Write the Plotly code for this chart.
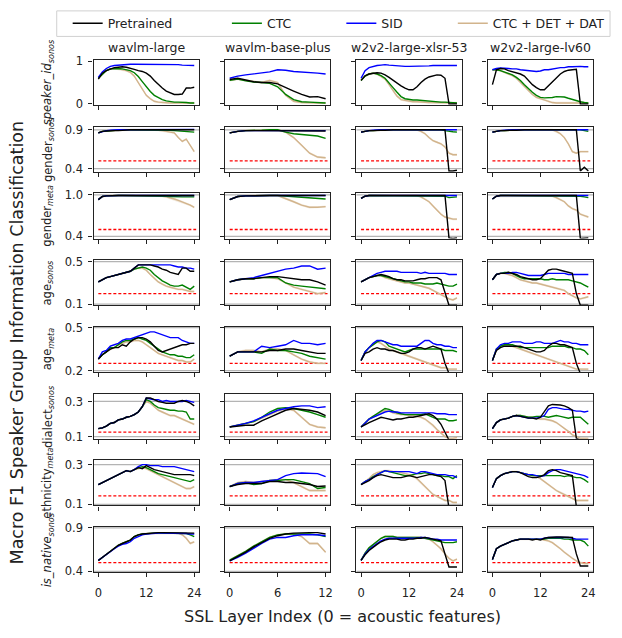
import plotly.graph_objects as go

W, H = 622, 638

MODELS = ["wavlm-large", "wavlm-base-plus", "w2v2-large-xlsr-53", "w2v2-large-lv60"]
N_LAYERS = [24, 12, 24, 24]
X_TICKS = [[0, 12, 24], [0, 6, 12], [0, 12, 24], [0, 12, 24]]

ROW_LABELS = [
    "<i>speaker_id</i><sub><i>sonos</i></sub>",
    "gender<sub><i>sonos</i></sub>",
    "gender<sub><i>meta</i></sub>",
    "age<sub><i>sonos</i></sub>",
    "age<sub><i>meta</i></sub>",
    "dialect<sub><i>sonos</i></sub>",
    "ethnicity<sub><i>meta</i></sub>",
    "<i>is_native</i><sub><i>sonos</i></sub>",
]
Y_RANGES = [[-0.03, 1.03], [0.36, 0.94], [0.37, 1.02], [0.09, 0.515],
            [0.19, 0.505], [0.088, 0.345], [0.095, 0.322], [0.39, 0.91]]
Y_TICKS = [[0, 1], [0.4, 0.9], [0.4, 1.0], [0.1, 0.5], [0.2, 0.5], [0.1, 0.3], [0.1, 0.3], [0.4, 0.9]]
Y_TICKTEXT = [["0", "1"], ["0.4", "0.9"], ["0.4", "1.0"], ["0.1", "0.5"], ["0.2", "0.5"],
              ["0.1", "0.3"], ["0.1", "0.3"], ["0.4", "0.9"]]
CHANCE = [None, 0.5, 0.5, 0.2, 0.25, 0.125, 0.143, 0.5]

SERIES_NAMES = ["Pretrained", "CTC", "SID", "CTC + DET + DAT"]

# ---------------- speaker_id (sonos) ----------------
SPK_PRE = [
    [0.58,0.72,0.78,0.82,0.85,0.86,0.87,0.86,0.84,0.81,0.78,0.76,0.72,0.65,0.55,0.45,0.37,0.30,0.25,0.22,0.22,0.23,0.37,0.37,0.39],
    [0.57,0.60,0.56,0.52,0.50,0.50,0.47,0.38,0.30,0.22,0.16,0.17,0.12],
    [0.55,0.66,0.70,0.72,0.73,0.72,0.68,0.62,0.55,0.48,0.42,0.37,0.33,0.33,0.40,0.50,0.58,0.63,0.66,0.68,0.67,0.60,0.0,0.0,0.0],
    [0.45,0.80,0.83,0.82,0.78,0.75,0.72,0.70,0.65,0.55,0.45,0.38,0.33,0.33,0.42,0.52,0.62,0.70,0.76,0.79,0.80,0.81,0.0,0.0,0.0],
]
SPK_CTC = [
    [0.60,0.70,0.78,0.82,0.83,0.83,0.82,0.80,0.78,0.73,0.64,0.52,0.40,0.29,0.20,0.14,0.10,0.07,0.05,0.04,0.04,0.04,0.03,0.02,0.02],
    [0.55,0.58,0.54,0.51,0.50,0.48,0.40,0.22,0.10,0.05,0.04,0.03,0.02],
    [0.55,0.65,0.70,0.72,0.70,0.66,0.60,0.50,0.38,0.27,0.17,0.12,0.10,0.09,0.09,0.08,0.07,0.06,0.05,0.05,0.04,0.04,0.03,0.02,0.02],
    [0.80,0.80,0.78,0.75,0.72,0.68,0.62,0.55,0.45,0.35,0.27,0.20,0.15,0.14,0.14,0.15,0.17,0.17,0.16,0.13,0.10,0.07,0.05,0.03,0.02],
]
SPK_SID = [
    [0.62,0.75,0.83,0.88,0.90,0.91,0.92,0.92,0.93,0.93,0.93,0.93,0.93,0.93,0.93,0.92,0.92,0.92,0.92,0.92,0.92,0.91,0.91,0.91,0.90],
    [0.60,0.65,0.68,0.70,0.72,0.75,0.80,0.79,0.76,0.75,0.74,0.72,0.70],
    [0.60,0.78,0.85,0.88,0.90,0.91,0.92,0.91,0.90,0.89,0.89,0.88,0.88,0.88,0.88,0.88,0.89,0.89,0.90,0.90,0.91,0.91,0.91,0.90,0.90],
    [0.80,0.83,0.84,0.84,0.83,0.82,0.82,0.80,0.79,0.78,0.78,0.76,0.77,0.80,0.80,0.82,0.84,0.85,0.85,0.87,0.87,0.88,0.88,0.87,0.87],
]
SPK_DAT = [
    [0.60,0.70,0.78,0.82,0.83,0.82,0.80,0.78,0.74,0.65,0.50,0.35,0.20,0.12,0.06,0.04,0.03,0.02,0.02,0.02,0.02,0.02,0.02,0.02,0.02],
    [0.55,0.58,0.55,0.52,0.50,0.55,0.50,0.20,0.06,0.03,0.02,0.02,0.02],
    [0.55,0.65,0.70,0.72,0.70,0.65,0.58,0.45,0.30,0.18,0.10,0.08,0.06,0.05,0.05,0.04,0.04,0.03,0.03,0.03,0.03,0.03,0.03,0.02,0.02],
    [0.80,0.80,0.78,0.74,0.70,0.66,0.60,0.50,0.40,0.30,0.22,0.15,0.12,0.10,0.06,0.03,0.02,0.02,0.02,0.02,0.02,0.02,0.02,0.02,0.02],
]

# ---------------- gender (sonos) ----------------
GS_PRE = [
    [0.86,0.88,0.885,0.89,0.89,0.89,0.895,0.895,0.90,0.90,0.90,0.90,0.90,0.90,0.90,0.90,0.90,0.90,0.90,0.90,0.90,0.90,0.90,0.90,0.90],
    [0.86,0.88,0.89,0.89,0.89,0.89,0.89,0.89,0.89,0.885,0.885,0.885,0.885],
    [0.87,0.885,0.89,0.89,0.895,0.895,0.895,0.90,0.90,0.90,0.90,0.90,0.90,0.90,0.90,0.90,0.90,0.90,0.90,0.90,0.90,0.90,0.37,0.37,0.38],
    [0.87,0.885,0.89,0.89,0.895,0.895,0.895,0.90,0.90,0.90,0.90,0.90,0.90,0.90,0.90,0.90,0.90,0.90,0.90,0.90,0.90,0.90,0.37,0.42,0.37],
]
GS_CTC = [
    [0.86,0.88,0.885,0.89,0.89,0.895,0.90,0.90,0.90,0.90,0.90,0.90,0.90,0.90,0.90,0.90,0.90,0.90,0.895,0.89,0.885,0.88,0.88,0.875,0.87],
    [0.86,0.88,0.89,0.89,0.895,0.90,0.90,0.87,0.85,0.84,0.83,0.82,0.79],
    [0.87,0.885,0.89,0.89,0.895,0.895,0.90,0.90,0.90,0.90,0.90,0.90,0.90,0.90,0.90,0.90,0.90,0.90,0.90,0.90,0.90,0.89,0.88,0.875,0.87],
    [0.87,0.885,0.89,0.89,0.895,0.895,0.90,0.90,0.90,0.90,0.90,0.90,0.90,0.90,0.90,0.90,0.90,0.90,0.90,0.90,0.90,0.90,0.90,0.89,0.88],
]
GS_SID = [
    [0.86,0.88,0.89,0.895,0.90,0.90,0.90,0.90,0.90,0.90,0.90,0.90,0.90,0.905,0.905,0.905,0.905,0.905,0.905,0.905,0.905,0.905,0.905,0.905,0.905],
    [0.86,0.88,0.89,0.89,0.89,0.89,0.89,0.89,0.89,0.89,0.89,0.89,0.89],
    [0.87,0.885,0.89,0.895,0.90,0.90,0.90,0.90,0.90,0.90,0.90,0.90,0.90,0.90,0.90,0.90,0.90,0.90,0.90,0.90,0.90,0.90,0.90,0.90,0.90],
    [0.87,0.885,0.89,0.895,0.90,0.90,0.90,0.90,0.90,0.90,0.90,0.90,0.90,0.90,0.90,0.90,0.90,0.90,0.90,0.90,0.90,0.90,0.90,0.90,0.90],
]
GS_DAT = [
    [0.86,0.88,0.885,0.89,0.89,0.895,0.90,0.90,0.90,0.90,0.90,0.90,0.90,0.90,0.90,0.895,0.89,0.88,0.87,0.86,0.80,0.75,0.78,0.70,0.62],
    [0.86,0.88,0.89,0.89,0.895,0.90,0.90,0.87,0.80,0.70,0.60,0.55,0.54],
    [0.87,0.885,0.89,0.89,0.895,0.895,0.90,0.90,0.90,0.90,0.90,0.90,0.90,0.90,0.90,0.88,0.85,0.80,0.76,0.74,0.72,0.68,0.60,0.58,0.58],
    [0.87,0.885,0.89,0.89,0.895,0.895,0.90,0.90,0.90,0.90,0.90,0.90,0.90,0.90,0.90,0.90,0.88,0.85,0.80,0.72,0.62,0.60,0.62,0.62,0.62],
]

# ---------------- gender (meta) ----------------
GM_PRE = [
    [0.93,0.975,0.985,0.99,0.99,0.99,0.99,0.99,0.99,0.99,0.99,0.99,0.99,0.99,0.99,0.99,0.99,0.99,0.99,0.99,0.99,0.99,0.99,0.99,0.99],
    [0.93,0.975,0.985,0.99,0.99,0.99,0.99,0.99,0.99,0.99,0.99,0.99,0.99],
    [0.95,0.98,0.99,0.99,0.99,0.99,0.99,0.99,0.99,0.99,0.99,0.99,0.99,0.99,0.99,0.99,0.99,0.99,0.99,0.99,0.99,0.99,0.38,0.37,0.38],
    [0.94,0.98,0.99,0.99,0.99,0.99,0.99,0.99,0.99,0.99,0.99,0.99,0.99,0.99,0.99,0.99,0.99,0.99,0.99,0.99,0.99,0.99,0.37,0.37,0.38],
]
GM_CTC = [
    [0.93,0.975,0.985,0.99,0.99,0.99,0.99,0.99,0.99,0.99,0.99,0.99,0.99,0.99,0.99,0.99,0.99,0.98,0.975,0.97,0.97,0.97,0.97,0.97,0.97],
    [0.93,0.975,0.985,0.99,0.99,0.99,0.99,0.98,0.97,0.965,0.96,0.95,0.94],
    [0.95,0.98,0.99,0.99,0.99,0.99,0.99,0.99,0.99,0.99,0.99,0.99,0.99,0.99,0.99,0.99,0.99,0.99,0.99,0.99,0.99,0.98,0.96,0.96,0.97],
    [0.94,0.98,0.99,0.99,0.99,0.99,0.99,0.99,0.99,0.99,0.99,0.99,0.99,0.99,0.99,0.99,0.99,0.99,0.99,0.99,0.99,0.99,0.98,0.97,0.96],
]
GM_SID = [
    [0.93,0.975,0.985,0.99,0.99,0.99,0.99,0.99,0.99,0.99,0.99,0.99,0.99,0.99,0.99,0.99,0.99,0.99,0.99,0.99,0.99,0.99,0.99,0.99,0.99],
    [0.93,0.975,0.985,0.99,0.99,0.99,0.99,0.99,0.99,0.99,0.99,0.99,0.99],
    [0.95,0.98,0.99,0.99,0.99,0.99,0.99,0.99,0.99,0.99,0.99,0.99,0.99,0.99,0.99,0.99,0.99,0.99,0.99,0.99,0.99,0.99,0.99,0.99,0.99],
    [0.94,0.98,0.99,0.99,0.99,0.99,0.99,0.99,0.99,0.99,0.99,0.99,0.99,0.99,0.99,0.99,0.99,0.99,0.99,0.99,0.99,0.99,0.99,0.99,0.99],
]
GM_DAT = [
    [0.93,0.975,0.985,0.99,0.99,0.99,0.99,0.99,0.99,0.99,0.99,0.99,0.99,0.99,0.99,0.985,0.98,0.97,0.96,0.94,0.92,0.90,0.87,0.85,0.82],
    [0.93,0.975,0.985,0.99,0.99,0.99,0.99,0.95,0.90,0.85,0.82,0.82,0.83],
    [0.95,0.98,0.99,0.99,0.99,0.99,0.99,0.99,0.99,0.99,0.99,0.99,0.99,0.99,0.99,0.97,0.94,0.90,0.84,0.78,0.72,0.68,0.66,0.65,0.65],
    [0.94,0.98,0.99,0.99,0.99,0.99,0.99,0.99,0.99,0.99,0.99,0.99,0.99,0.99,0.99,0.98,0.96,0.93,0.90,0.84,0.80,0.78,0.72,0.70,0.68],
]

# ---------------- age (sonos) ----------------
AS_PRE = [
    [0.31,0.33,0.35,0.36,0.37,0.38,0.39,0.40,0.41,0.44,0.47,0.47,0.47,0.47,0.46,0.45,0.43,0.42,0.40,0.39,0.38,0.44,0.44,0.41,0.41],
    [0.31,0.33,0.34,0.34,0.35,0.36,0.36,0.35,0.34,0.33,0.33,0.31,0.28],
    [0.31,0.33,0.35,0.36,0.37,0.38,0.37,0.36,0.34,0.33,0.33,0.32,0.32,0.32,0.33,0.34,0.34,0.35,0.35,0.35,0.33,0.22,0.09,0.09,0.09],
    [0.33,0.38,0.39,0.39,0.40,0.39,0.38,0.36,0.35,0.34,0.33,0.33,0.34,0.38,0.42,0.43,0.43,0.42,0.41,0.40,0.39,0.20,0.09,0.09,0.09],
]
AS_CTC = [
    [0.31,0.33,0.35,0.36,0.37,0.38,0.39,0.40,0.41,0.43,0.44,0.45,0.44,0.42,0.38,0.35,0.32,0.30,0.28,0.27,0.27,0.28,0.26,0.24,0.27],
    [0.31,0.33,0.34,0.34,0.35,0.35,0.35,0.30,0.28,0.27,0.26,0.255,0.245],
    [0.31,0.33,0.35,0.36,0.37,0.37,0.36,0.35,0.34,0.33,0.32,0.31,0.31,0.30,0.30,0.30,0.29,0.29,0.29,0.30,0.29,0.28,0.27,0.27,0.29],
    [0.33,0.38,0.39,0.40,0.40,0.39,0.37,0.35,0.34,0.34,0.34,0.34,0.34,0.33,0.33,0.34,0.33,0.33,0.33,0.33,0.32,0.31,0.30,0.28,0.26],
]
AS_SID = [
    [0.31,0.33,0.35,0.36,0.37,0.38,0.39,0.40,0.41,0.44,0.47,0.47,0.47,0.47,0.47,0.47,0.47,0.47,0.47,0.46,0.45,0.45,0.44,0.44,0.43],
    [0.31,0.33,0.34,0.35,0.37,0.39,0.41,0.43,0.44,0.46,0.46,0.43,0.44],
    [0.31,0.33,0.35,0.37,0.39,0.40,0.41,0.41,0.41,0.41,0.40,0.40,0.40,0.40,0.40,0.39,0.40,0.39,0.39,0.39,0.39,0.39,0.38,0.38,0.38],
    [0.33,0.38,0.39,0.39,0.39,0.40,0.40,0.39,0.38,0.37,0.37,0.37,0.37,0.38,0.39,0.39,0.39,0.39,0.39,0.38,0.38,0.38,0.38,0.38,0.38],
]
AS_DAT = [
    [0.31,0.33,0.35,0.36,0.37,0.38,0.39,0.40,0.41,0.43,0.44,0.44,0.42,0.38,0.34,0.31,0.29,0.27,0.26,0.25,0.24,0.24,0.23,0.22,0.22],
    [0.31,0.33,0.34,0.34,0.35,0.35,0.34,0.30,0.26,0.24,0.22,0.20,0.21],
    [0.31,0.33,0.35,0.36,0.37,0.37,0.35,0.34,0.33,0.32,0.31,0.30,0.30,0.29,0.28,0.27,0.26,0.25,0.23,0.21,0.19,0.17,0.15,0.14,0.16],
    [0.33,0.38,0.39,0.39,0.38,0.37,0.35,0.33,0.32,0.31,0.30,0.30,0.29,0.28,0.27,0.26,0.25,0.24,0.23,0.20,0.18,0.16,0.15,0.16,0.17],
]

# ---------------- age (meta) ----------------
AM_PRE = [
    [0.28,0.31,0.33,0.35,0.36,0.36,0.38,0.37,0.40,0.42,0.43,0.43,0.42,0.40,0.37,0.34,0.33,0.34,0.35,0.36,0.37,0.38,0.38,0.39,0.39],
    [0.30,0.33,0.33,0.33,0.33,0.34,0.34,0.35,0.35,0.34,0.33,0.32,0.32],
    [0.27,0.32,0.33,0.35,0.36,0.35,0.35,0.34,0.34,0.33,0.32,0.32,0.33,0.35,0.36,0.36,0.35,0.36,0.37,0.36,0.35,0.25,0.18,0.18,0.18],
    [0.27,0.34,0.36,0.37,0.37,0.37,0.37,0.37,0.36,0.35,0.34,0.33,0.33,0.34,0.37,0.39,0.39,0.38,0.38,0.37,0.36,0.25,0.18,0.18,0.18],
]
AM_CTC = [
    [0.28,0.31,0.33,0.36,0.36,0.38,0.40,0.41,0.41,0.42,0.43,0.42,0.41,0.39,0.37,0.35,0.33,0.32,0.31,0.31,0.30,0.30,0.29,0.29,0.31],
    [0.30,0.33,0.33,0.33,0.32,0.35,0.34,0.34,0.33,0.32,0.30,0.29,0.28],
    [0.27,0.33,0.36,0.38,0.40,0.41,0.40,0.37,0.36,0.35,0.34,0.33,0.34,0.35,0.35,0.35,0.35,0.35,0.35,0.35,0.35,0.34,0.34,0.34,0.33],
    [0.27,0.35,0.37,0.38,0.38,0.38,0.37,0.36,0.36,0.36,0.36,0.36,0.36,0.36,0.36,0.37,0.37,0.37,0.37,0.36,0.36,0.35,0.35,0.34,0.31],
]
AM_SID = [
    [0.28,0.33,0.34,0.37,0.38,0.39,0.41,0.42,0.42,0.43,0.44,0.45,0.46,0.47,0.47,0.46,0.45,0.44,0.43,0.43,0.43,0.41,0.40,0.39,0.39],
    [0.30,0.33,0.33,0.33,0.37,0.36,0.37,0.38,0.41,0.39,0.39,0.38,0.39],
    [0.27,0.33,0.36,0.39,0.41,0.41,0.40,0.39,0.38,0.38,0.37,0.37,0.37,0.37,0.37,0.39,0.41,0.41,0.39,0.38,0.38,0.37,0.37,0.36,0.36],
    [0.27,0.35,0.38,0.39,0.39,0.40,0.40,0.40,0.39,0.39,0.39,0.40,0.40,0.39,0.39,0.39,0.40,0.41,0.40,0.40,0.39,0.39,0.38,0.38,0.38],
]
AM_DAT = [
    [0.28,0.31,0.33,0.35,0.36,0.38,0.39,0.40,0.40,0.41,0.41,0.40,0.38,0.36,0.34,0.32,0.31,0.30,0.29,0.28,0.27,0.27,0.26,0.26,0.28],
    [0.30,0.33,0.34,0.34,0.33,0.35,0.35,0.34,0.31,0.28,0.26,0.25,0.25],
    [0.27,0.33,0.36,0.38,0.40,0.39,0.37,0.35,0.34,0.33,0.32,0.31,0.30,0.29,0.28,0.27,0.26,0.25,0.24,0.23,0.22,0.22,0.21,0.21,0.21],
    [0.27,0.35,0.37,0.38,0.38,0.37,0.36,0.35,0.34,0.33,0.32,0.31,0.30,0.29,0.28,0.27,0.26,0.25,0.24,0.23,0.22,0.21,0.21,0.21,0.21],
]

# ---------------- dialect (sonos) ----------------
DI_PRE = [
    [0.145,0.15,0.16,0.175,0.18,0.195,0.20,0.21,0.215,0.225,0.24,0.27,0.32,0.32,0.31,0.30,0.295,0.29,0.29,0.29,0.30,0.305,0.30,0.29,0.275],
    [0.155,0.16,0.165,0.165,0.19,0.21,0.23,0.25,0.26,0.255,0.25,0.24,0.22],
    [0.155,0.17,0.18,0.19,0.20,0.21,0.205,0.20,0.195,0.20,0.20,0.205,0.21,0.21,0.215,0.22,0.225,0.23,0.22,0.20,0.17,0.12,0.08,0.08,0.08],
    [0.145,0.18,0.195,0.20,0.205,0.215,0.22,0.215,0.21,0.205,0.205,0.20,0.21,0.24,0.275,0.283,0.283,0.28,0.275,0.265,0.25,0.09,0.08,0.08,0.08],
]
DI_CTC = [
    [0.145,0.15,0.16,0.175,0.18,0.195,0.20,0.21,0.215,0.225,0.24,0.27,0.31,0.30,0.28,0.265,0.26,0.255,0.25,0.25,0.245,0.245,0.24,0.20,0.20],
    [0.155,0.165,0.175,0.185,0.21,0.24,0.26,0.265,0.26,0.25,0.24,0.225,0.21],
    [0.155,0.18,0.20,0.215,0.23,0.25,0.26,0.255,0.245,0.235,0.23,0.225,0.225,0.225,0.225,0.225,0.23,0.22,0.21,0.20,0.20,0.20,0.19,0.19,0.195],
    [0.145,0.18,0.195,0.20,0.205,0.215,0.22,0.22,0.215,0.21,0.21,0.215,0.215,0.215,0.21,0.215,0.22,0.215,0.21,0.205,0.21,0.21,0.21,0.19,0.17],
]
DI_SID = [
    [0.145,0.15,0.16,0.175,0.18,0.195,0.20,0.21,0.215,0.225,0.24,0.27,0.32,0.315,0.31,0.31,0.30,0.305,0.30,0.30,0.30,0.30,0.305,0.30,0.295],
    [0.155,0.165,0.175,0.19,0.21,0.23,0.25,0.26,0.27,0.275,0.275,0.265,0.27],
    [0.155,0.18,0.20,0.21,0.22,0.23,0.24,0.245,0.24,0.24,0.235,0.235,0.235,0.235,0.235,0.235,0.235,0.235,0.235,0.23,0.23,0.23,0.225,0.225,0.225],
    [0.145,0.18,0.195,0.20,0.205,0.215,0.22,0.215,0.21,0.205,0.205,0.205,0.21,0.22,0.255,0.265,0.265,0.26,0.255,0.255,0.25,0.245,0.245,0.24,0.245],
]
DI_DAT = [
    [0.145,0.15,0.16,0.175,0.18,0.195,0.20,0.21,0.215,0.225,0.24,0.27,0.30,0.29,0.27,0.25,0.24,0.23,0.22,0.22,0.21,0.20,0.19,0.18,0.17],
    [0.155,0.165,0.175,0.185,0.205,0.225,0.245,0.26,0.25,0.21,0.17,0.155,0.15],
    [0.155,0.18,0.20,0.215,0.225,0.24,0.25,0.245,0.235,0.23,0.225,0.225,0.22,0.22,0.215,0.21,0.20,0.185,0.165,0.14,0.12,0.10,0.09,0.09,0.095],
    [0.145,0.18,0.195,0.20,0.205,0.215,0.22,0.22,0.215,0.21,0.21,0.205,0.20,0.20,0.195,0.19,0.18,0.165,0.15,0.13,0.11,0.10,0.09,0.09,0.09],
]

# ---------------- ethnicity (meta) ----------------
ET_PRE = [
    [0.20,0.21,0.22,0.23,0.24,0.25,0.26,0.27,0.265,0.275,0.285,0.28,0.295,0.285,0.275,0.27,0.265,0.26,0.255,0.25,0.25,0.25,0.25,0.25,0.245],
    [0.19,0.20,0.205,0.205,0.205,0.215,0.215,0.21,0.21,0.205,0.20,0.19,0.193],
    [0.20,0.21,0.22,0.235,0.245,0.25,0.245,0.24,0.235,0.235,0.235,0.24,0.245,0.24,0.235,0.24,0.245,0.25,0.25,0.245,0.24,0.22,0.08,0.08,0.08],
    [0.185,0.23,0.245,0.255,0.26,0.265,0.265,0.26,0.25,0.24,0.235,0.235,0.24,0.25,0.27,0.275,0.27,0.26,0.255,0.25,0.245,0.09,0.08,0.08,0.08],
]
ET_CTC = [
    [0.20,0.21,0.22,0.23,0.24,0.25,0.26,0.27,0.265,0.275,0.285,0.29,0.285,0.275,0.265,0.255,0.25,0.245,0.24,0.235,0.23,0.225,0.22,0.215,0.225],
    [0.19,0.205,0.21,0.20,0.205,0.22,0.22,0.225,0.225,0.215,0.205,0.18,0.185],
    [0.20,0.215,0.225,0.24,0.25,0.26,0.27,0.265,0.26,0.255,0.25,0.245,0.245,0.25,0.255,0.255,0.26,0.255,0.25,0.245,0.245,0.24,0.24,0.23,0.245],
    [0.185,0.23,0.245,0.255,0.26,0.265,0.265,0.26,0.255,0.25,0.245,0.245,0.245,0.245,0.245,0.245,0.245,0.245,0.24,0.245,0.24,0.235,0.235,0.225,0.21],
]
ET_SID = [
    [0.20,0.21,0.22,0.23,0.24,0.25,0.26,0.27,0.265,0.275,0.29,0.30,0.30,0.295,0.295,0.295,0.29,0.29,0.29,0.29,0.285,0.28,0.275,0.27,0.265],
    [0.19,0.205,0.21,0.21,0.215,0.22,0.225,0.245,0.255,0.258,0.258,0.255,0.24],
    [0.20,0.215,0.225,0.235,0.25,0.26,0.27,0.265,0.265,0.265,0.265,0.265,0.265,0.26,0.255,0.265,0.265,0.26,0.255,0.25,0.25,0.25,0.245,0.245,0.235],
    [0.185,0.23,0.245,0.255,0.26,0.265,0.265,0.26,0.255,0.25,0.25,0.245,0.24,0.245,0.26,0.27,0.275,0.275,0.27,0.265,0.26,0.255,0.25,0.245,0.235],
]
ET_DAT = [
    [0.20,0.21,0.22,0.23,0.24,0.25,0.26,0.27,0.265,0.275,0.28,0.285,0.28,0.27,0.26,0.25,0.24,0.23,0.22,0.21,0.20,0.19,0.18,0.18,0.19],
    [0.19,0.21,0.215,0.21,0.215,0.22,0.225,0.225,0.21,0.19,0.17,0.17,0.17],
    [0.20,0.215,0.23,0.25,0.26,0.265,0.27,0.27,0.265,0.265,0.26,0.255,0.25,0.245,0.23,0.21,0.19,0.17,0.15,0.14,0.13,0.12,0.12,0.11,0.11],
    [0.185,0.23,0.245,0.255,0.26,0.265,0.265,0.26,0.255,0.25,0.245,0.24,0.23,0.215,0.20,0.185,0.17,0.16,0.15,0.14,0.13,0.12,0.12,0.12,0.12],
]

# ---------------- is_native (sonos) ----------------
NA_PRE = [
    [0.525,0.56,0.60,0.63,0.66,0.70,0.72,0.74,0.76,0.80,0.82,0.83,0.835,0.84,0.845,0.845,0.845,0.845,0.845,0.845,0.845,0.845,0.84,0.84,0.84],
    [0.52,0.57,0.62,0.68,0.73,0.78,0.81,0.83,0.84,0.845,0.845,0.845,0.83],
    [0.525,0.59,0.64,0.68,0.71,0.74,0.76,0.77,0.77,0.77,0.76,0.76,0.77,0.77,0.78,0.78,0.79,0.78,0.77,0.76,0.75,0.60,0.45,0.45,0.45],
    [0.535,0.66,0.69,0.71,0.73,0.75,0.76,0.77,0.77,0.77,0.76,0.77,0.76,0.78,0.79,0.795,0.795,0.795,0.795,0.795,0.79,0.60,0.46,0.46,0.46],
]
NA_CTC = [
    [0.525,0.56,0.60,0.63,0.66,0.70,0.72,0.74,0.76,0.80,0.82,0.83,0.835,0.84,0.84,0.84,0.84,0.84,0.84,0.84,0.84,0.84,0.835,0.82,0.80],
    [0.53,0.58,0.63,0.69,0.74,0.79,0.82,0.83,0.83,0.83,0.83,0.82,0.80],
    [0.525,0.61,0.67,0.71,0.75,0.78,0.80,0.80,0.80,0.79,0.79,0.79,0.79,0.79,0.79,0.79,0.78,0.77,0.76,0.75,0.74,0.73,0.73,0.73,0.74],
    [0.535,0.66,0.69,0.71,0.73,0.75,0.76,0.77,0.77,0.77,0.77,0.77,0.77,0.77,0.78,0.78,0.78,0.78,0.77,0.77,0.76,0.76,0.76,0.74,0.69],
]
NA_SID = [
    [0.525,0.56,0.60,0.63,0.66,0.69,0.71,0.72,0.74,0.78,0.80,0.82,0.83,0.835,0.84,0.84,0.84,0.84,0.84,0.84,0.84,0.84,0.835,0.83,0.83],
    [0.52,0.56,0.61,0.67,0.72,0.77,0.79,0.79,0.81,0.82,0.82,0.82,0.81],
    [0.525,0.60,0.65,0.69,0.72,0.75,0.77,0.78,0.78,0.78,0.78,0.78,0.78,0.78,0.78,0.79,0.79,0.78,0.77,0.77,0.76,0.76,0.76,0.76,0.76],
    [0.535,0.66,0.69,0.71,0.73,0.75,0.76,0.77,0.77,0.77,0.77,0.77,0.77,0.78,0.79,0.79,0.79,0.79,0.79,0.79,0.78,0.77,0.77,0.77,0.77],
]
NA_DAT = [
    [0.525,0.56,0.60,0.63,0.66,0.70,0.72,0.74,0.76,0.80,0.82,0.83,0.835,0.84,0.84,0.84,0.84,0.84,0.84,0.84,0.84,0.82,0.78,0.72,0.74],
    [0.53,0.58,0.63,0.69,0.74,0.79,0.82,0.83,0.83,0.80,0.72,0.72,0.62],
    [0.525,0.61,0.67,0.71,0.75,0.78,0.80,0.80,0.80,0.79,0.79,0.79,0.79,0.79,0.79,0.79,0.78,0.77,0.74,0.70,0.66,0.60,0.55,0.52,0.54],
    [0.535,0.66,0.69,0.71,0.73,0.75,0.76,0.77,0.77,0.77,0.77,0.77,0.77,0.76,0.75,0.73,0.70,0.66,0.62,0.58,0.55,0.52,0.50,0.49,0.49],
]

ROWS = [
    (SPK_PRE, SPK_CTC, SPK_SID, SPK_DAT),
    (GS_PRE, GS_CTC, GS_SID, GS_DAT),
    (GM_PRE, GM_CTC, GM_SID, GM_DAT),
    (AS_PRE, AS_CTC, AS_SID, AS_DAT),
    (AM_PRE, AM_CTC, AM_SID, AM_DAT),
    (DI_PRE, DI_CTC, DI_SID, DI_DAT),
    (ET_PRE, ET_CTC, ET_SID, ET_DAT),
    (NA_PRE, NA_CTC, NA_SID, NA_DAT),
]

# ---------------- styling / layout ----------------
COLORS = {"Pretrained": "#000000", "CTC": "#008000", "SID": "#0000ff", "CTC + DET + DAT": "#d2b48c"}
DRAW_ORDER = [3, 1, 2, 0]  # tan, green, blue, black on top
LEGEND_IDS = {"Pretrained": "legend", "CTC": "legend2", "SID": "legend3", "CTC + DET + DAT": "legend4"}
FONT = "DejaVu Sans"
TXT = "#222222"

COL_LEFT = [94, 226, 358, 490]
COL_W = 106
ROW_TOP = [55, 123, 191, 259, 327, 395, 463, 531]
ROW_H = 46

fig = go.Figure()
layout = {}
annotations = []
shapes = []

for r in range(8):
    series = ROWS[r]
    yr = Y_RANGES[r]
    span = yr[1] - yr[0]
    for c in range(4):
        k = r * 4 + c + 1
        xref = "x" if k == 1 else f"x{k}"
        yref = "y" if k == 1 else f"y{k}"
        xs = list(range(N_LAYERS[c] + 1))
        nmax = N_LAYERS[c]

        # gray reference lines at tick values
        if r > 0:
            for tv in Y_TICKS[r]:
                fig.add_trace(go.Scatter(x=[-nmax * 0.05, nmax * 1.05], y=[tv, tv], mode="lines",
                                         line=dict(color="#b4b4b4", width=1.2), xaxis=xref, yaxis=yref,
                                         showlegend=False, hoverinfo="skip"))
        # chance line
        if CHANCE[r] is not None:
            fig.add_trace(go.Scatter(x=[0, nmax * 1.02], y=[CHANCE[r], CHANCE[r]], mode="lines",
                                     line=dict(color="#ff0000", width=1.3, dash="3px,2px"),
                                     xaxis=xref, yaxis=yref, showlegend=False, hoverinfo="skip"))

        for si in DRAW_ORDER:
            name = SERIES_NAMES[si]
            ys = series[si][c]
            if si == 3:
                hw = 0.025 * span
                up = [v + hw for v in ys]
                lo = [v - hw for v in ys]
                fig.add_trace(go.Scatter(x=xs + xs[::-1], y=up + lo[::-1], mode="lines", fill="toself",
                                         fillcolor="rgba(210,180,140,0.28)", line=dict(width=0),
                                         xaxis=xref, yaxis=yref, showlegend=False, hoverinfo="skip"))
            fig.add_trace(go.Scatter(x=xs, y=ys, mode="lines", name=name,
                                     line=dict(color=COLORS[name], width=1.4),
                                     xaxis=xref, yaxis=yref,
                                     showlegend=(k == 1), legend=LEGEND_IDS[name]))

        x0 = COL_LEFT[c] / W
        x1 = (COL_LEFT[c] + COL_W) / W
        y1 = 1 - ROW_TOP[r] / H
        y0 = 1 - (ROW_TOP[r] + ROW_H) / H
        axcommon = dict(showline=True, linecolor=TXT, linewidth=1.3, mirror=True, ticks="outside",
                        ticklen=4, tickwidth=1.2, tickcolor=TXT, showgrid=False, zeroline=False,
                        tickfont=dict(family=FONT, size=11.5, color=TXT))
        layout["xaxis" if k == 1 else f"xaxis{k}"] = dict(
            axcommon, domain=[x0, x1], anchor=yref, range=[-nmax * 0.05, nmax * 1.05],
            tickvals=X_TICKS[c], showticklabels=(r == 7), ticklabelstandoff=6)
        layout["yaxis" if k == 1 else f"yaxis{k}"] = dict(
            axcommon, domain=[y0, y1], anchor=xref, range=yr,
            tickvals=Y_TICKS[r], ticktext=Y_TICKTEXT[r], showticklabels=(c == 0), ticklabelstandoff=3)

    # row label
    yc = 1 - (ROW_TOP[r] + ROW_H / 2) / H
    annotations.append(dict(text=ROW_LABELS[r], x=48 / W, y=yc, xref="paper", yref="paper",
                            showarrow=False, textangle=-90, xanchor="center", yanchor="middle",
                            font=dict(family=FONT, size=11.5, color=TXT)))

for c in range(4):
    annotations.append(dict(text=MODELS[c], x=(COL_LEFT[c] + COL_W / 2) / W, y=1 - 42 / H,
                            xref="paper", yref="paper", showarrow=False, xanchor="center",
                            yanchor="middle", font=dict(family=FONT, size=12.5, color=TXT)))

annotations.append(dict(text="Macro F1 Speaker Group Information Classification", x=17 / W,
                        y=1 - 343 / H, xref="paper", yref="paper", showarrow=False, textangle=-90,
                        xanchor="center", yanchor="middle", font=dict(family=FONT, size=17.5, color=TXT)))
annotations.append(dict(text="SSL Layer Index (0 = acoustic features)", x=344 / W, y=1 - 622 / H,
                        xref="paper", yref="paper", showarrow=False, xanchor="center",
                        yanchor="middle", font=dict(family=FONT, size=16, color=TXT)))

shapes.append(dict(type="rect", xref="paper", yref="paper", x0=57 / W, x1=613 / W,
                   y0=1 - 31 / H, y1=1 - 5 / H, line=dict(color="#d0d0d0", width=1),
                   fillcolor="rgba(255,255,255,0.8)", layer="below"))

legend_common = dict(orientation="h", xanchor="left", yanchor="middle", y=1 - 18 / H,
                     bgcolor="rgba(0,0,0,0)", borderwidth=0,
                     font=dict(family=FONT, size=12.5, color=TXT), itemwidth=30)
layout["legend"] = dict(legend_common, x=68 / W)
layout["legend2"] = dict(legend_common, x=228 / W)
layout["legend3"] = dict(legend_common, x=343 / W)
layout["legend4"] = dict(legend_common, x=455 / W)

fig.update_layout(
    width=W, height=H, margin=dict(l=0, r=0, t=0, b=0),
    paper_bgcolor="white", plot_bgcolor="white",
    font=dict(family=FONT, color=TXT),
    annotations=annotations, shapes=shapes,
    **layout,
)

fig.write_html("out.html")
